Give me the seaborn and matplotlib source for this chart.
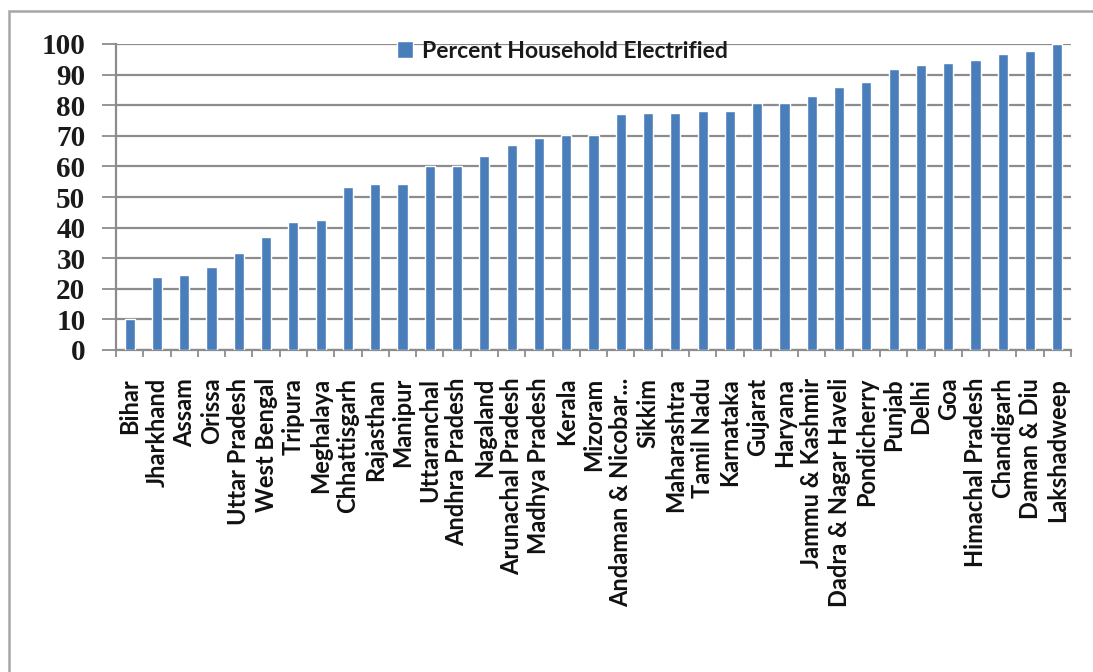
import matplotlib
matplotlib.use("Agg")
import matplotlib.pyplot as plt
import matplotlib.patches as mpatches
import seaborn as sns
import pandas as pd
import numpy as np

states = ["Bihar", "Jharkhand", "Assam", "Orissa", "Uttar Pradesh", "West Bengal",
          "Tripura", "Meghalaya", "Chhattisgarh", "Rajasthan", "Manipur", "Uttaranchal",
          "Andhra Pradesh", "Nagaland", "Arunachal Pradesh", "Madhya Pradesh", "Kerala",
          "Mizoram", "Andaman & Nicobar...", "Sikkim", "Maharashtra", "Tamil Nadu",
          "Karnataka", "Gujarat", "Haryana", "Jammu & Kashmir", "Dadra & Nagar Haveli",
          "Pondicherry", "Punjab", "Delhi", "Goa", "Himachal Pradesh", "Chandigarh",
          "Daman & Diu", "Lakshadweep"]
electrified = [10.0, 24.0, 24.5, 27.0, 31.8, 37.0, 41.8, 42.5, 53.2, 54.2, 54.2, 60.1,
               60.1, 63.4, 66.9, 69.2, 70.2, 70.2, 77.0, 77.6, 77.6, 78.2, 78.2, 80.6,
               80.6, 83.0, 85.8, 87.7, 91.8, 93.0, 93.7, 94.8, 96.6, 97.8, 100.0]
yticks = [0, 10, 20, 30, 40, 50, 60, 70, 80, 90, 100]
series_name = "Percent Household Electrified"

df = pd.DataFrame({"State": states, "Percent": electrified})

sns.set_theme(style="white")
plt.rcParams["font.family"] = ["Lato", "DejaVu Sans"]

W, H = 1093, 672
fig = plt.figure(figsize=(W / 100, H / 100), dpi=100)
ax = fig.add_axes([116 / W, 1 - 350 / H, (1071 - 116) / W, (350 - 44) / H])

bar_color = "#4a7ebb"
grid_color = "#8c8c8c"

sns.barplot(data=df, x="State", y="Percent", color=bar_color, saturation=1,
            width=0.37, ax=ax, label=series_name, zorder=3)

ax.set_xlim(-0.5, len(states) - 0.5)
ax.set_ylim(0, 100)
ax.set_yticks(yticks)
ax.set_yticklabels([str(v) for v in yticks], fontfamily="Liberation Serif",
                   fontweight="bold", fontsize=21, color="#1a1a1a")
ax.yaxis.grid(True, color=grid_color, linewidth=1.6, zorder=0)
ax.xaxis.grid(False)
ax.set_axisbelow(True)
ax.set_xlabel("")
ax.set_ylabel("")

ax.set_xticks(range(len(states)))
ax.set_xticklabels(states, rotation=90, fontsize=17, fontweight="bold",
                   color="#111111", va="top", ha="center")
ax.set_xticks(np.arange(-0.5, len(states), 1.0), minor=True)
ax.tick_params(axis="x", which="major", length=0, pad=20)
ax.tick_params(axis="x", which="minor", length=5, width=1.3, color=grid_color,
               direction="out", bottom=True)
ax.tick_params(axis="y", which="major", length=10, width=1.3, color=grid_color,
               direction="out", left=True, pad=12)

for s in ["top", "right"]:
    ax.spines[s].set_visible(False)
for s in ["left", "bottom"]:
    ax.spines[s].set_color(grid_color)
    ax.spines[s].set_linewidth(1.6)

leg = ax.legend(loc="center left", bbox_to_anchor=(397 / W, 1 - 51 / H),
                bbox_transform=fig.transFigure, frameon=False, borderpad=0,
                borderaxespad=0, handlelength=0.7, handleheight=0.7,
                handletextpad=0.4, prop={"family": "Lato", "size": 16.5, "weight": "bold"})
for t in leg.get_texts():
    t.set_color("#1a1a1a")

frame = mpatches.Rectangle((9 / W, -0.1), 1.2, 1 - 11 / H + 0.1,
                           transform=fig.transFigure, fill=False,
                           edgecolor="#a6a6a6", linewidth=1.8)
fig.patches.append(frame)

fig.savefig("out.png", dpi=100, facecolor="white")
